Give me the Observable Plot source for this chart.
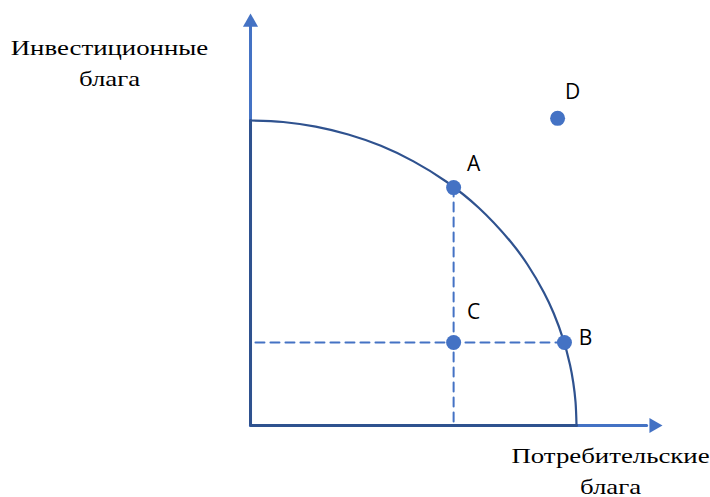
<!DOCTYPE html>
<html>
<head>
<meta charset="utf-8">
<script src="https://cdn.jsdelivr.net/npm/d3@7"></script>
<script src="https://cdn.jsdelivr.net/npm/@observablehq/plot@0.6"></script>
<style>
  html, body { margin: 0; padding: 0; background: #fff; }
  #chart svg { display: block; }
</style>
</head>
<body>
<div id="chart"></div>
<script>
// PPF curve (units: intercepts at 10)
const curveX = [0, 1, 2, 3, 4, 5, 6, 7, 8, 8.5, 9, 9.3, 9.6, 9.8, 9.9, 9.97, 10];
const curveY = [10, 9.95, 9.80, 9.54, 9.17, 8.66, 8.0, 7.14, 6.0, 5.27, 4.36, 3.68, 2.80, 1.99, 1.41, 0.77, 0];

// Labelled points
const pointNames = ["A", "B", "C", "D"];
const pointX = [6.23, 9.63, 6.23, 9.42];
const pointY = [7.80, 2.72, 2.72, 10.07];

// Axis extents
const axisMaxX = 12.15;
const axisMaxY = 13.08;
const arrowX = 12.37;
const arrowY = 13.22;

const yTitle = "Инвестиционные\nблага";
const xTitle = "Потребительские\nблага";

const curve = curveX.map((x, i) => ({x, y: curveY[i]}));
const pts = pointNames.map((n, i) => ({name: n, x: pointX[i], y: pointY[i]}));
const A = pts[0], B = pts[1];

const labelOffsets = {A: [20, -23], B: [21, -4], C: [20, -30], D: [15, -26]};

const navy = "#2F528F";
const blue = "#4472C4";
const serif = "'Liberation Serif', 'Times New Roman', serif";

const chart = Plot.plot({
  width: 710,
  height: 497,
  margin: 0,
  x: {domain: [-7.669, 14.110], axis: null},
  y: {domain: [-2.361, 13.934], axis: null},
  marks: [
    // light blue axes
    Plot.line([{x: 0, y: 0}, {x: 0, y: axisMaxY}], {x: "x", y: "y", stroke: blue, strokeWidth: 3}),
    Plot.line([{x: 0, y: 0}, {x: axisMaxX, y: 0}], {x: "x", y: "y", stroke: blue, strokeWidth: 3}),
    Plot.dot([{x: 0, y: arrowY}], {x: "x", y: "y", symbol: "triangle", r: 5.6, fill: blue, stroke: "none"}),
    Plot.dot([{x: arrowX, y: 0}], {x: "x", y: "y", symbol: "triangle", r: 5.6, fill: blue, stroke: "none", rotate: 90}),
    // dashed guides
    Plot.line([{x: A.x, y: A.y}, {x: A.x, y: 0}], {x: "x", y: "y", stroke: blue, strokeWidth: 2, strokeDasharray: "9,6"}),
    Plot.line([{x: B.x, y: B.y}, {x: 0, y: B.y}], {x: "x", y: "y", stroke: blue, strokeWidth: 2, strokeDasharray: "9,6"}),
    // dark outline of the PPF region
    Plot.line([{x: 0, y: 10}, {x: 0, y: 0}, {x: 10, y: 0}], {x: "x", y: "y", stroke: navy, strokeWidth: 3, strokeLinejoin: "miter"}),
    Plot.line(curve, {x: "x", y: "y", stroke: navy, strokeWidth: 2.2, curve: "catmull-rom"}),
    // points
    Plot.dot(pts, {x: "x", y: "y", r: 7.5, fill: blue, stroke: "none"}),
    ...pts.map(p => Plot.text([p], {
      x: "x", y: "y", text: "name",
      dx: labelOffsets[p.name][0], dy: labelOffsets[p.name][1],
      fontSize: 21, fontFamily: "Open Sans", fill: "#000", textAnchor: "middle", lineAnchor: "middle"
    })),
    // axis titles
    Plot.text([yTitle], {
      frameAnchor: "top-left", dx: 109, dy: 60.5,
      text: d => d, fontSize: 22, fontFamily: serif, fill: "#000",
      textAnchor: "middle", lineAnchor: "middle", lineHeight: 1.41
    }),
    Plot.text([xTitle], {
      frameAnchor: "top-left", dx: 610, dy: 468.5,
      text: d => d, fontSize: 22, fontFamily: serif, fill: "#000",
      textAnchor: "middle", lineAnchor: "middle", lineHeight: 1.41
    })
  ]
});
// the reference's title glyphs are wider than Liberation Serif: stretch horizontally
d3.select(chart).selectAll("text").each(function() {
  if (this.textContent.includes("блага")) {
    const t = this.getAttribute("transform") || "";
    this.setAttribute("transform", t + " scale(1.22,1)");
  }
});
document.getElementById("chart").appendChild(chart);
</script>
</body>
</html>
